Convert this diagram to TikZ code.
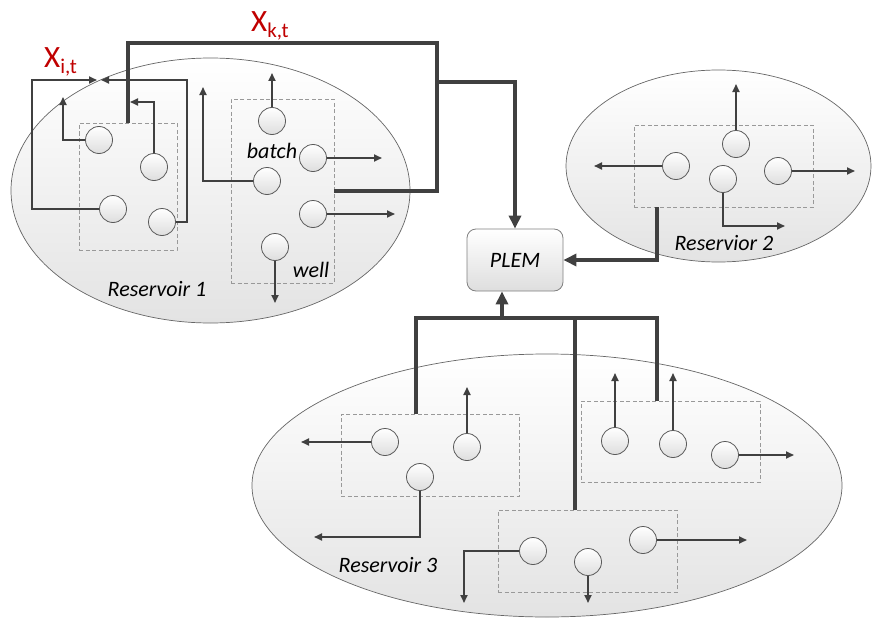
\documentclass[tikz,border=0pt]{standalone}
\usepackage{fontspec}
\setmainfont{Carlito}
\usetikzlibrary{arrows.meta,shapes.geometric}
\definecolor{ln}{HTML}{404040}
\definecolor{xred}{HTML}{C00000}
\begin{document}
\begin{tikzpicture}[x=1pt,y=-1pt,
  res/.style={ellipse, draw=black!60, line width=0.7pt, top color=white, bottom color=black!11, inner sep=0},
  dbox/.style={rectangle, draw=black!40, dash pattern=on 4pt off 2.5pt, line width=0.9pt, inner sep=0},
  wellc/.style={circle, draw=black!65, line width=0.8pt, top color=white, bottom color=black!13, minimum size=27pt, inner sep=0},
  flow/.style={draw=ln, line width=1.8pt, -{Triangle[length=8pt,width=7pt]}},
  trunk/.style={draw=ln, line width=4pt},
  bigtip/.style={-{Triangle[length=13pt,width=12pt]}},
  lbl/.style={font=\fontsize{22}{26}\selectfont\itshape, inner sep=0},
  xlbl/.style={font=\fontsize{31}{33}\selectfont, text=xred, inner sep=0, anchor=base west},
  plembox/.style={rectangle, rounded corners=9pt, draw=black!50, line width=0.8pt, top color=white, bottom color=black!13, minimum width=96pt, minimum height=62pt, font=\fontsize{22}{26}\selectfont\itshape}
]
\useasboundingbox (0,0) rectangle (873,618);

% reservoirs
\node[res, minimum width=399pt, minimum height=265pt] (res1) at (210.5,190.5) {};
\node[res, minimum width=305pt, minimum height=192pt] (res2) at (718.5,166) {};
\node[res, minimum width=590pt, minimum height=263pt] (res3) at (547,485.5) {};

% batches (dashed boxes)
\node[dbox, minimum width=98pt, minimum height=127pt] (b1a) at (128,186.5) {};
\node[dbox, minimum width=103pt, minimum height=184pt] (b1b) at (282.5,191) {};
\node[dbox, minimum width=179pt, minimum height=82pt] (b2) at (723.5,166) {};
\node[dbox, minimum width=178pt, minimum height=82pt] (b3a) at (430,455) {};
\node[dbox, minimum width=179pt, minimum height=82pt] (b3b) at (587.5,551) {};
\node[dbox, minimum width=179pt, minimum height=81pt] (b3c) at (670.5,441.5) {};

% PLEM
\node[plembox] (plem) at (515,260) {PLEM};

% wells reservoir 1
\node[wellc] (w1) at (99,140) {};
\node[wellc] (w2) at (154,167) {};
\node[wellc] (w3) at (113,209) {};
\node[wellc] (w4) at (162,222) {};
\node[wellc] (w5) at (272,121) {};
\node[wellc] (w6) at (313,158) {};
\node[wellc] (w7) at (267,181) {};
\node[wellc] (w8) at (313,214) {};
\node[wellc] (w9) at (275,247) {};
% wells reservoir 2
\node[wellc] (v1) at (676,166) {};
\node[wellc] (v2) at (736,144) {};
\node[wellc] (v3) at (723,179) {};
\node[wellc] (v4) at (778,171) {};
% wells reservoir 3
\node[wellc] (a1) at (385,442) {};
\node[wellc] (a2) at (467,447) {};
\node[wellc] (a3) at (420,477) {};
\node[wellc] (q1) at (533,551) {};
\node[wellc] (q2) at (588,562) {};
\node[wellc] (q3) at (643,540) {};
\node[wellc] (c1) at (615,441) {};
\node[wellc] (c2) at (673,444) {};
\node[wellc] (c3) at (725,455) {};

% coordinates
\coordinate (xl) at (32,80);
\coordinate (xa) at (97,80);
\coordinate (xr) at (187,80);
\coordinate (xb) at (101,80);
\coordinate (ua) at (63,97);
\coordinate (ub) at (130,102);
\coordinate (u5) at (272,73);
\coordinate (r6) at (382,158);
\coordinate (u7) at (203,87);
\coordinate (r8) at (395,214);
\coordinate (d9) at (275,303);
\coordinate (k1) at (437,43);
\coordinate (k2) at (437,82);
\coordinate (l1) at (594,166);
\coordinate (u2) at (736,84);
\coordinate (r3) at (785,226);
\coordinate (r4) at (855,171);
\coordinate (r2x) at (657,262);
\coordinate (ea1) at (301,442);
\coordinate (ea2) at (467,387);
\coordinate (ea3) at (314,537);
\coordinate (eq1) at (464,603);
\coordinate (eq2) at (588,603);
\coordinate (eq3) at (747,540);
\coordinate (ec1) at (615,373);
\coordinate (ec2) at (673,373);
\coordinate (ec3) at (794,455);
\coordinate (bl) at (416,318);
\coordinate (br) at (657,318);
\coordinate (bm) at (575,318);
\coordinate (pb) at (502,318);

% thin flows
\draw[flow] (w3.west) -| (xl) -- (xa);
\draw[flow] (w4.east) -| (xr) -- (xb);
\draw[flow] (w1.west) -| (ua);
\draw[flow] (w2.north) |- (ub);
\draw[flow] (w5.north) -- (u5);
\draw[flow] (w6.east) -- (r6);
\draw[flow] (w7.west) -| (u7);
\draw[flow] (w8.east) -- (r8);
\draw[flow] (w9.south) -- (d9);
\draw[flow] (v1.west) -- (l1);
\draw[flow] (v2.north) -- (u2);
\draw[flow] (v3.south) |- (r3);
\draw[flow] (v4.east) -- (r4);
\draw[flow] (a1.west) -- (ea1);
\draw[flow] (a2.north) -- (ea2);
\draw[flow] (a3.south) |- (ea3);
\draw[flow] (q1.west) -| (eq1);
\draw[flow] (q2.south) -- (eq2);
\draw[flow] (q3.east) -- (eq3);
\draw[flow] (c1.north) -- (ec1);
\draw[flow] (c2.north) -- (ec2);
\draw[flow] (c3.east) -- (ec3);

% trunk lines
\draw[trunk] (b1a.north) |- (k1) |- (b1b.east);
\draw[trunk, bigtip] (k2) -| (plem.north);
\draw[trunk, bigtip] (b2.south -| r2x) |- (plem.east);
\draw[trunk] (b3a.north -| bl) |- (br) -- (b3c.north -| br);
\draw[trunk] (bm) -- (b3b.north -| bm);
\draw[trunk, bigtip] (pb) -- (pb |- plem.south);

% labels
\node[lbl] (tb) at (272,151) {batch};
\node[lbl] (tw) at (311,270) {well};
\node[lbl] (t1) at (157,289) {Reservoir 1};
\node[lbl] (t2) at (724,243) {Reservior 2};
\node[lbl] (t3) at (388,565) {Reservoir 3};
\node[xlbl] (xit) at (44,67) {X\raisebox{-6pt}{\fontsize{21}{23}\selectfont i,t}};
\node[xlbl] (xkt) at (251,32) {X\raisebox{-6pt}{\fontsize{21}{23}\selectfont k,t}};
\end{tikzpicture}
\end{document}
